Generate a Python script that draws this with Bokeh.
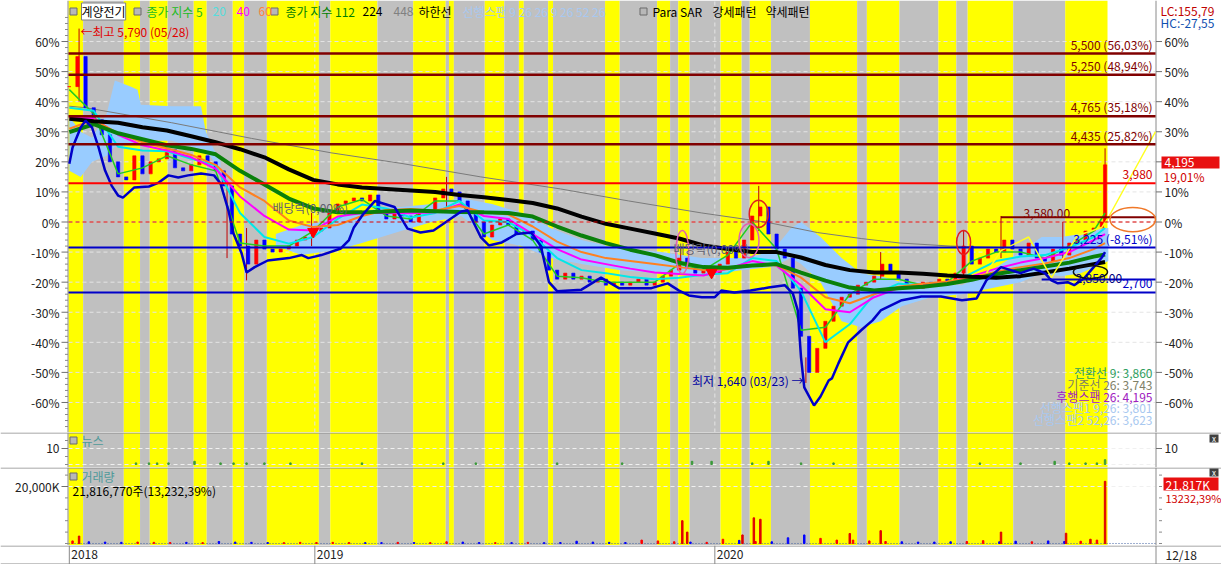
import numpy as np
from bokeh.plotting import figure
from bokeh.layouts import column
from bokeh.models import Range1d, Label
from bokeh.core.properties import value
from bokeh.embed import file_html
from bokeh.resources import INLINE

FONT = "Noto Sans CJK KR"

# ------------------------------------------------------------------ data
stock_name = "계양전기"
base_price = 3525            # 0 % reference price
last_price = 4195
year_labels = ["2018", "2019", "2020"]
year_days = [0, 151, 397]
last_date_label = "12/18"

# closes (% vs base) sampled every 5 trading days
close_days = list(range(0, 636, 5)) + [637]
close_pct = [45, 55, 38, 34, 29, 20, 15, 14, 22, 16,
             20, 21, 24, 18, 17, 19, 22, 20, 17, 12,
             -4, -8, -14, -6, -9, -10, -9, -8, -6, -5,
             -3, -2, 3, 6, 7, 8, 7, 9, 3, 1,
             4, 2, 0, 3, 4, 8, 11, 10, 7, 3,
             0, -5, -1, 1, -1, -4, -3, -6, -10, -16,
             -19, -17, -19, -18, -20, -19, -21, -20, -21, -20,
             -19, -21, -20, -18, -16, -12, -15, -17, -16, -17,
             -14, -10, -12, -6, 2, 5, -4, -9, -12, -22,
             -38, -50, -42, -33, -28, -25, -24, -21, -20, -18,
             -14, -17, -19, -21, -22, -20, -21, -19, -20, -17,
             -8, -14, -12, -9, -10, -6, -9, -11, -7, -12,
             -13, -9, -11, -7, -6, -3, -2, 0, 19]
wick_days = [6, 97, 109, 149, 232, 376, 424, 453, 499, 550, 573, 611, 637]
wick_high = [64.3, 13, -2, 3, 15, -8, 12, -45, -10, -3, 2, 0, 24.5]
wick_low = [40, -12, -19.4, -8, 5, -16, -3, -53.5, -19, -18, -12, -12, 0]

# moving averages (% vs base) every 15 trading days
ma_days = list(range(0, 631, 15)) + [637]
ma5 = [44, 36, 16, 18, 22, 19, 17, -7, -8, -8, -3, 5, 7.5, 2, 1, 7, 7, -4, -1, -6,
       -18, -18.5, -20, -20, -20, -14, -16, -11, 0, -9, -36, -35, -24, -19, -19, -21,
       -20, -13, -10, -10, -12, -8, -3, 3]
ma20 = [38, 37, 25, 23.8, 23.5, 21, 18.8, 3, -5, -7.2, -5, 1, 5.8, 4.5, 1.5, 3, 7, 0.5,
        0, -4.5, -12, -16, -17, -18.3, -19, -18.5, -17.5, -17, -12, -13, -23, -40, -34,
        -24, -20.5, -21, -20.8, -17, -13, -11.5, -11, -8.5, -5, -2]
ma40 = [34.7, 34.5, 29, 25.5, 23.8, 21.5, 17.7, 8.5, 2, -2.5, -2.8, 1.8, 3, 3, 2.9, 3.2,
        5.8, 2, 1, -4, -9, -12.5, -14, -15.5, -16.8, -17.3, -17.8, -15.5, -13, -14.5,
        -21, -29, -30, -25, -22, -21, -20, -18, -15.5, -13.5, -12, -10, -6, -4]
ma60 = [31, 34, 29.5, 26.5, 24.5, 22.3, 19, 11.5, 7, 0.5, -1.7, -1, 2, 4, 4.3, 3.8, 5.3,
        3.2, 2.5, -1.5, -6.5, -10, -12, -13, -14, -15, -16, -15.7, -14.5, -14.3, -18.5,
        -25, -27, -24, -21.5, -20.5, -19.8, -18.5, -16.5, -15, -13.8, -12, -9, -7]
ma112 = [29.9, 32.5, 29.5, 27.5, 25.5, 24.3, 22.5, 17, 12.5, 7.8, 4.5, 3.2, 3.2, 3.5, 3.8,
         3.6, 3.3, 3.2, 3, 1.8, -1.5, -4.5, -7, -9.2, -11, -13.5, -15, -15.2, -14.5, -14,
         -16.8, -19.5, -21.8, -22.8, -22, -21.5, -20.6, -19.2, -17.3, -16, -14.8, -13.5,
         -11.5, -10.8]
ma224 = [34.3, 33.5, 33, 31.5, 30.4, 28.5, 26.5, 24.2, 21.5, 17.5, 14, 12.5, 11.5, 11,
         10.5, 10, 9, 8.2, 7.3, 6.3, 4.5, 1.8, -0.6, -2.2, -3.8, -5.5, -7.8, -9, -10, -10,
         -11.8, -14.3, -16, -16.8, -16.8, -17.2, -17.8, -18.2, -18.5, -18, -16.8, -15.5,
         -14, -13.3]
ma448_days = [0, 10, 63, 112, 161, 204, 253, 302, 344, 389, 430, 460, 487, 511, 542, 573, 603, 637]
ma448 = [38.5, 38, 33, 27.8, 23, 19.5, 15, 11, 7, 3, -0.2, -3.5, -5.5, -7, -8, -8.5, -8.5, -8.5]

# lower band line (하한선)
low_days = [0, 2, 7, 10, 14, 18, 22, 26, 30, 33, 40, 49, 55, 61, 67, 73, 81, 89, 93, 98,
            101, 106, 109, 114, 122, 135, 143, 147, 155, 167, 172, 175, 181, 188, 200, 208,
            216, 224, 233, 241, 245, 253, 258, 266, 275, 284, 290, 295, 300, 315, 327, 338,
            358, 368, 375, 381, 389, 397, 401, 409, 419, 430, 440, 445, 448, 450, 452, 458,
            462, 467, 469, 473, 479, 487, 494, 499, 512, 524, 536, 549, 558, 564, 573, 579,
            585, 593, 600, 604, 608, 614, 618, 624, 630, 635, 637]
low_pct = [19.4, 24.8, 31.4, 33.7, 31.4, 24.8, 17.1, 12.1, 8.8, 8.1, 11.5, 11.8, 13.1, 15.5,
           14.8, 15.5, 16.1, 15.5, 12.8, 3.5, -3.8, -10.5, -16.8, -15, -12.8, -12, -11, -12,
           -11, -8.8, -6, -1.8, 2.8, 7, 5, -2.2, -3.5, -2.8, 0.5, 3.5, 3.8, -5, -7.8, -6.8,
           -4, -3.5, -8, -20, -23, -22.5, -18.5, -22, -22, -20.4, -22.8, -24.4, -25, -25,
           -22.8, -23.4, -22.8, -21.8, -21, -23.8, -29.4, -45, -55, -61, -58, -52.7, -52,
           -47, -40, -36, -32.7, -29.4, -26, -24.8, -24.8, -26, -25.4, -19.4, -15, -16, -17,
           -15.5, -17, -19.4, -20.4, -20, -21, -18.8, -15, -11.8, -10]

# ichimoku cloud (span1 / span2 envelope), None = gap
cloud_days = [0, 7, 14, 23, 28, 38, 42, 44, 63, 81, 84, 89, 93, 110,
              127, 143, 155, 167, 180, 192, 204, 223, 241, 260, 278, 296, 315, 339, 364,
              389, 413, 432, 444, 450, 462, 475, 487, 499, 512, 530, 549, 567, 585, 598,
              610, 622, 635, 639]
cloud_top = [35, 30, 28, 36, 47, 45, 44, 39, 38.5, 38.5, 30, 24, 20, None,
             -4, -1, 0, 2, 3, 5, 5, 6, 8, 6, 3, -2, -6, -9, -10, -12, -12, -10, -2, 0,
             -5, -12, -17, -18, -20, -20, -21, -16, -10, -5, -5, -4, -2, -2]
cloud_bot = [17, 15, 20, 22, 25, 26, 27, 27, 27, 24, 24, 20, 18, None,
             -8, -11, -10, -9, -7, -5, -3, 0, 2, -6, -8, -12, -14, -16, -17, -18, -16,
             -15, -12, -14, -20, -33, -35, -33, -28, -25, -24, -22, -20, -17, -18, -17,
             -14, -13]

# parabolic SAR line
sar_days = [564, 573, 590, 604, 620, 635, 639, 668]
sar_pct = [-17, -9.5, -5, -18.5, -4.5, -1.8, 1.5, 30]

# pattern regimes (강세 = strong / 약세 = weak)
band_start = [0, 9, 34, 44, 50, 61, 77, 85, 101, 108, 122, 154, 161, 190, 212, 232, 234,
              237, 256, 268, 277, 280, 295, 298, 330, 339, 362, 370, 375, 382, 401, 414,
              419, 432, 456, 485, 491, 511, 535, 546, 553, 581, 613]
band_kind = ["강세", "약세", "강세", "약세", "강세", "약세", "강세", "약세", "강세", "약세",
             "강세", "약세", "강세", "약세", "강세", "약세", "강세", "약세", "강세", "약세",
             "강세", "약세", "강세", "약세", "강세", "약세", "강세", "약세", "강세", "약세",
             "강세", "약세", "강세", "약세", "강세", "약세", "강세", "약세", "강세", "약세",
             "강세", "약세", "강세"]
band_last_day = 639

# price levels
res_prices = [5500, 5250, 4765, 4435]
red_level_price = 3980
sup_prices = [3225, 2700]
seg_prices = [3580, 2850]
seg_start_days = [573, 598]

# dividend markers and annotations
div_days = [150, 395]
div_pct = [-3.2, -16.8]
ell_days = [424, 418, 377, 550, 654, 628]
ell_pct = [2.7, -6.2, -10, -6.8, 0.8, -16.6]
ell_w = [11.7, 12.3, 8, 8.6, 28, 21]
ell_h = [9, 11.3, 14.3, 8, 8, 4.3]
ell_col = ["#E02020", "#E060B0", "#E060B0", "#E02020", "#F07828", "#101010"]

# ichimoku summary
ichi_text = ["전환선 9: 3,860", "기준선 26: 3,743", "후행스팬 26: 4,195",
             "선행스팬1 9,26: 3,801", "선행스팬2 52,26: 3,623"]
ichi_color = ["#2E9E5E", "#808066", "#A020C0", "#A8C8F0", "#A8C8F0"]

# volume (thousand shares)
vol_base_days = list(range(2, 637, 10))
vol_base_k = [900, 600, 500, 400, 500, 400, 350, 400, 300, 700, 500, 400, 350, 300, 400, 350,
              400, 350, 300, 300, 400, 350, 300, 600, 500, 350, 300, 300, 400, 300, 350, 800,
              500, 400, 350, 1200, 900, 600, 500, 400, 1500, 1100, 700, 600, 2000, 3000, 1800, 1200,
              1200, 900, 700, 600, 500, 500, 600, 700, 1000, 600, 800, 600, 900, 700, 800, 1200]
vol_spike_days = [6, 377, 380, 414, 421, 425, 480, 499, 573, 613, 628, 637]
vol_spike_k = [2600, 8000, 4000, 3000, 9000, 8500, 3500, 4500, 4000, 3600, 1500, 21817]
vol_last_shares = 21816770
vol_last_ratio = "13,232,39%"

# news counts
news_days = [41, 49, 54, 61, 77, 93, 101, 109, 120, 136, 180, 230, 250, 300, 340, 383, 395,
             420, 430, 450, 470, 560, 585, 606, 615, 625, 632, 637]
news_count = [1, 1, 1, 1, 2, 1, 1, 1, 1, 1, 1, 1, 1, 1, 1, 2, 2, 1, 2, 1, 1, 1, 1, 2, 1, 1, 1, 3]

# ------------------------------------------------------------------ geometry
W = 1221
FRAME_L, FRAME_R = 68, 1155          # page px of the price area
BAR_PX = 1.626
X0 = -0.5
X1 = X0 + (FRAME_R - FRAME_L) / BAR_PX
PCT_PX = 3.008
ZERO_PY = 221.5
MAIN_TOP, MAIN_H = 0, 432
NEWS_TOP, NEWS_H = MAIN_TOP + MAIN_H, 35
VOL_TOP, VOL_H = NEWS_TOP + NEWS_H, 78
DATE_TOP, DATE_H = VOL_TOP + VOL_H, 19
N_BOT, N_TOP = -1.875, 20.0
V_BOT, V_TOP = -702.0, 26667.0
AXIS_C = "#8a8a8a"


def bx(px):
    return X0 + (px - FRAME_L) / BAR_PX


def my(py):
    return (ZERO_PY - py) / PCT_PX


def ny(py):
    return N_TOP - (py - NEWS_TOP) * (N_TOP - N_BOT) / NEWS_H


def vy(py):
    return V_TOP - (py - VOL_TOP) * (V_TOP - V_BOT) / VOL_H


def dy(py):
    return 1.0 - (py - DATE_TOP) / DATE_H


def pct(price):
    return (price / base_price - 1) * 100


def fmt_pct(v):
    return ("%.2f" % v).replace(".", ",")


XL, XR = bx(0), bx(W)
shared_x = Range1d(XL, XR)


def panel(h, y0, y1):
    f = figure(width=W, height=h, x_range=shared_x, y_range=Range1d(y0, y1),
               output_backend="svg", toolbar_location=None,
               x_axis_location=None, y_axis_location=None,
               min_border_left=0, min_border_right=0,
               min_border_top=0, min_border_bottom=0)
    f.outline_line_color = None
    f.background_fill_color = "white"
    f.border_fill_color = "white"
    for g in f.grid:
        g.visible = False
    return f


def yaxis(f, y0, y1, ticks, labels, minor=(), side="left"):
    if side == "left":
        ax_px, t0, t1, m0, lx, align = 67.5, 61, 67.5, 64.5, 59, "right"
    else:
        ax_px, t0, t1, m0, lx, align = 1155.5, 1155.5, 1161.5, 1158.5, 1164, "left"
    f.segment(x0=[bx(ax_px)], y0=[y0], x1=[bx(ax_px)], y1=[y1], line_color=AXIS_C, line_width=1)
    if ticks:
        n = len(ticks)
        f.segment(x0=[bx(t0)] * n, y0=ticks, x1=[bx(t1)] * n, y1=ticks,
                  line_color="#707070", line_width=1)
    if minor:
        m = len(minor)
        f.segment(x0=[bx(m0)] * m, y0=list(minor), x1=[bx(t1)] * m, y1=list(minor),
                  line_color=AXIS_C, line_width=1)
    if labels:
        f.text(x=[bx(lx)] * len(ticks), y=ticks, text=labels, text_font=value(FONT),
               text_font_size="12px", text_align=align, text_baseline="middle",
               text_color="#222222")


def hsep(f, y):
    f.segment(x0=[XL], y0=[y], x1=[XR], y1=[y], line_color=AXIS_C, line_width=1)


def dashed_h(f, ys, color="#E4E4E4", dash="4 3"):
    n = len(ys)
    f.segment(x0=[X0] * n, y0=ys, x1=[X1] * n, y1=ys, line_color=color, line_width=1,
              line_dash=dash)


band_end = band_start[1:] + [band_last_day]
band_color = ["#FFFF00" if k == "강세" else "#C0C0C0" for k in band_kind]


def stripes(f):
    r = f.quad(left=[s - 0.5 for s in band_start], right=[e - 0.5 for e in band_end],
               bottom=f.y_range.start, top=f.y_range.end,
               fill_color=band_color, line_color=None)
    r.level = "image"


def lab(f, x, y, text, color="#000000", size="12px", align="left", baseline="middle",
        bg=None, border=None):
    f.add_layout(Label(x=x, y=y, text=text, text_color=color, text_font=FONT,
                       text_font_size=size, text_align=align, text_baseline=baseline,
                       background_fill_color=bg, border_line_color=border))


def close_icon(f, yconv, py):
    f.quad(left=[bx(1209)], right=[bx(1218)], top=[yconv(py)], bottom=[yconv(py + 8)],
           fill_color="#404040", line_color=None)
    lab(f, bx(1213.5), yconv(py + 4), "x", "#FFFFFF", size="8px", align="center")


def square(f, yconv, px, py):
    f.scatter(x=[bx(px)], y=[yconv(py)], marker="square", size=7, fill_color="#B8B8B8",
              line_color="#6A6A6A")


# ------------------------------------------------------------------ main panel
Y_TOP, Y_BOT = my(MAIN_TOP), my(MAIN_TOP + MAIN_H)
p = panel(MAIN_H, Y_BOT, Y_TOP)
stripes(p)
major = list(range(-60, 61, 10))
minor = [v for v in range(-70, 71, 2) if v % 10 and Y_BOT < v < Y_TOP]
dashed_h(p, major)
p.segment(x0=year_days[1:], y0=[Y_BOT] * 2, x1=year_days[1:], y1=[Y_TOP] * 2,
          line_color="#E4E4E4", line_dash="4 3")
pct_labels = ["%d%%" % v for v in major]
yaxis(p, Y_BOT, Y_TOP, major, pct_labels, minor, "left")
yaxis(p, Y_BOT, Y_TOP, major, pct_labels, (), "right")

# cloud
seg, segs = ([], [], []), []
for d, t, b in zip(cloud_days, cloud_top, cloud_bot):
    if t is None:
        if seg[0]:
            segs.append(seg)
        seg = ([], [], [])
        continue
    seg[0].append(d); seg[1].append(t); seg[2].append(b)
if seg[0]:
    segs.append(seg)
for xs, ts, bs in segs:
    p.varea(x=xs, y1=ts, y2=bs, fill_color="#99CCFF")

p.line(ma448_days, ma448, line_color="#7a7a7a", line_width=1)

# candles (open = previous sampled close)
opens = [close_pct[0]] + close_pct[:-1]
c_top = [max(o, c) for o, c in zip(opens, close_pct)]
c_bot = [min(o, c) for o, c in zip(opens, close_pct)]
c_col = ["#FF0000" if c >= o else "#0000FF" for o, c in zip(opens, close_pct)]
p.segment(x0=wick_days, y0=wick_low, x1=wick_days, y1=wick_high, line_color="#C00000", line_width=1)
p.vbar(x=close_days, width=2.0, top=c_top, bottom=c_bot, fill_color=c_col, line_color=c_col, line_width=0.6)

p.line(ma_days, ma5, line_color="#22CC22", line_width=1.5)
p.line(ma_days, ma20, line_color="#00E8E8", line_width=2)
p.line(ma_days, ma40, line_color="#FF00FF", line_width=2)
p.line(ma_days, ma60, line_color="#FF8020", line_width=2)
p.line(ma_days, ma112, line_color="#0A800A", line_width=4)
p.line(ma_days, ma224, line_color="#000000", line_width=4)
p.line(low_days, low_pct, line_color="#0000C8", line_width=2.5)
p.line(sar_days, sar_pct, line_color="#FFFF20", line_width=1.5)

# level lines
res_y = [pct(v) for v in res_prices]
p.segment(x0=[X0] * 4, y0=res_y, x1=[X1] * 4, y1=res_y, line_color="#800000", line_width=2.5)
red_y = pct(red_level_price)
p.segment(x0=[X0], y0=[red_y], x1=[X1], y1=[red_y], line_color="#FF0000", line_width=2)
p.segment(x0=[X0], y0=[0], x1=[X1], y1=[0], line_color="#E00000", line_width=1, line_dash="4 3")
sup_y = [pct(v) for v in sup_prices]
p.segment(x0=[X0] * 2, y0=sup_y, x1=[X1] * 2, y1=sup_y, line_color="#0000C8", line_width=2)
seg_y = [pct(v) for v in seg_prices]
p.segment(x0=seg_start_days, y0=seg_y, x1=[X1] * 2, y1=seg_y,
          line_color=["#800000", "#0000C8"], line_width=2)

p.ellipse(x=ell_days, y=ell_pct, width=ell_w, height=ell_h, fill_color=None,
          line_color=ell_col, line_width=1.5)
p.scatter(x=div_days, y=div_pct, marker="inverted_triangle", size=11,
          fill_color="#FF0000", line_color="#FF0000")

# legend row
lg_y = my(11)
for sx in (73, 137, 274, 643):
    square(p, my, sx, 11)
lab(p, bx(81), lg_y, stock_name, bg="white", border="#808080")
lab(p, bx(146), lg_y, "종가 지수 5", "#22BB22")
lab(p, bx(212), lg_y, "20", "#55DDDD")
lab(p, bx(236), lg_y, "40", "#FF00FF")
lab(p, bx(258), lg_y, "60", "#FF8040")
lab(p, bx(285), lg_y, "종가 지수 112", "#008000")
lab(p, bx(362), lg_y, "224", "#000000")
lab(p, bx(393), lg_y, "448", "#808080")
lab(p, bx(418), lg_y, "하한선", "#000000")
lab(p, bx(462), lg_y, "선행스팬 9 26 26 9 26 52 26", "#A8C8F0")
lab(p, bx(652), lg_y, "Para SAR", "#000000")
lab(p, bx(712), lg_y, "강세패턴", "#000000")
lab(p, bx(765), lg_y, "약세패턴", "#000000")

# level labels
RX = bx(1152)
for pr, yv in zip(res_prices, res_y):
    lab(p, RX, yv + 3.1, "%s (%s%%)" % (format(pr, ","), fmt_pct(yv)), "#800000", align="right")
lab(p, RX, red_y + 2.9, format(red_level_price, ","), "#D00000", align="right")
lab(p, RX, sup_y[0] + 2.9, "%s (%s%%)" % (format(sup_prices[0], ","), fmt_pct(sup_y[0])),
    "#0000C8", align="right")
lab(p, RX, sup_y[1] + 2.9, format(sup_prices[1], ","), "#0000C8", align="right")
lab(p, bx(1023), seg_y[0] + 1.4, "%s.00" % format(seg_prices[0], ","), "#800000")
lab(p, bx(1075), seg_y[1] + 0.3, "%s.00" % format(seg_prices[1], ","), "#000080")

lab(p, bx(80), my(31), "←최고 5,790 (05/28)", "#E00000")
lab(p, bx(803), my(380), "최저 1,640 (03/23) →", "#0000A0", align="right")
lab(p, bx(272), my(207), "배당락(0,00%)", "#606070")
lab(p, bx(673), my(248), "배당락(0,00%)", "#606070")

for i, (t, c) in enumerate(zip(ichi_text, ichi_color)):
    lab(p, RX, my(372 + 11.8 * i), t, c, align="right")

# right-side info
lab(p, bx(1160), my(10), "LC:155,79", "#C00000")
lab(p, bx(1160), my(22), "HC:-27,55", "#1050B0")
p.quad(left=[bx(1161)], right=[bx(1219)], top=[my(156)], bottom=[my(168)],
       fill_color="#E81010", line_color=None)
lab(p, bx(1164), my(162), format(last_price, ","), "#FFFFFF")
lab(p, bx(1163), my(176), "%s%%" % fmt_pct(pct(last_price)), "#D00000")

# ------------------------------------------------------------------ news panel
pn = panel(NEWS_H, N_BOT, N_TOP)
stripes(pn)
dashed_h(pn, [0, 10], "#F0F0F0")
yaxis(pn, N_BOT, N_TOP, [10], ["10"], [0, 5, 15], "left")
yaxis(pn, N_BOT, N_TOP, [10], ["10"], (), "right")
hsep(pn, ny(NEWS_TOP + 0.5))
pn.vbar(x=news_days, width=0.9, top=news_count, bottom=0, fill_color="#3A9A3A",
        line_color="#3A9A3A")
square(pn, ny, 73, 440)
lab(pn, bx(81), ny(440), "뉴스", "#4F9A9A")
close_icon(pn, ny, 434)

# ------------------------------------------------------------------ volume panel
pv = panel(VOL_H, V_BOT, V_TOP)
stripes(pv)
dashed_h(pv, [20000], "#F0F0F0")
dashed_h(pv, [0], "#4060A0", "1 2")
vol_minor = [0, 4000, 8000, 12000, 16000, 24000]
yaxis(pv, V_BOT, V_TOP, [20000], ["20,000K"], vol_minor, "left")
yaxis(pv, V_BOT, V_TOP, [], [], vol_minor + [20000], "right")
hsep(pv, vy(VOL_TOP + 0.5))


def day_color(d):
    k = min(int(round(d / 5.0)), len(close_pct) - 1)
    return "#FF0000" if close_pct[k] >= close_pct[max(k - 1, 0)] else "#0000FF"


pv.vbar(x=vol_base_days, width=0.9, top=vol_base_k, bottom=0,
        fill_color=[day_color(d) for d in vol_base_days],
        line_color=[day_color(d) for d in vol_base_days])
pv.vbar(x=vol_spike_days, width=0.9, top=vol_spike_k, bottom=0, fill_color="#E00000",
        line_color="#E00000")
square(pv, vy, 73, 476)
lab(pv, bx(81), vy(476), "거래량", "#4F9A9A")
lab(pv, bx(72), vy(490), "%s주(%s)" % (format(vol_last_shares, ","), vol_last_ratio), "#000000")
pv.quad(left=[bx(1163)], right=[bx(1218)], top=[vy(477)], bottom=[vy(490)],
        fill_color="#E81010", line_color=None)
lab(pv, bx(1165), vy(483.5), "21,817K", "#FFFFFF")
lab(pv, bx(1165), vy(497), "13232,39%", "#D00000", size="11px")
close_icon(pv, vy, 468)

# ------------------------------------------------------------------ date strip
pd_ = panel(DATE_H, 0, 1)
hsep(pd_, dy(DATE_TOP + 0.5))
hsep(pd_, dy(DATE_TOP + DATE_H - 0.5))
pd_.segment(x0=year_days + [bx(1155.5)], y0=[0] * 4, x1=year_days + [bx(1155.5)], y1=[1] * 4,
            line_color=AXIS_C, line_width=1)
pd_.text(x=[d + 1.2 for d in year_days], y=[dy(554)] * 3, text=year_labels,
         text_font=value(FONT), text_font_size="12px", text_baseline="middle",
         text_align="left", text_color="#222222")
lab(pd_, bx(1165), dy(554), last_date_label, "#222222")

layout = column(p, pn, pv, pd_)
open("out.html", "w").write(file_html(layout, INLINE))
